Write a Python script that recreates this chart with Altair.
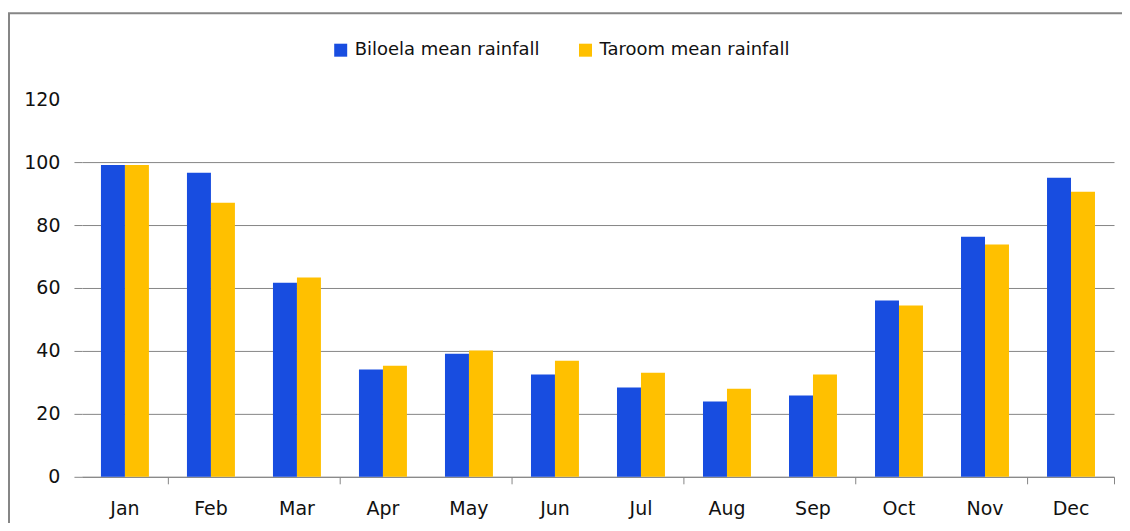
import altair as alt
import pandas as pd

months = ["Jan", "Feb", "Mar", "Apr", "May", "Jun", "Jul", "Aug", "Sep", "Oct", "Nov", "Dec"]
biloela = [99.1, 96.6, 61.7, 34.1, 39.1, 32.5, 28.4, 23.9, 25.8, 56.0, 76.3, 95.0]
taroom = [99.1, 87.1, 63.3, 35.3, 40.1, 36.9, 33.1, 28.0, 32.5, 54.4, 73.8, 90.6]
series = ["Biloela mean rainfall", "Taroom mean rainfall"]
colors = ["#184DE0", "#FFC000"]
y_ticks = [0, 20, 40, 60, 80, 100, 120]
tick_months = ["Jan", "Mar", "May", "Jul", "Sep", "Nov", "Dec"]

rows = []
for m, b, t in zip(months, biloela, taroom):
    rows.append({"month": m, "series": series[0], "value": b})
    rows.append({"month": m, "series": series[1], "value": t})
df = pd.DataFrame(rows)

W, H = 1033, 378
GRAY = "#868686"
FONT = "DejaVu Sans"
TXT = "#111111"

xscale = alt.Scale(paddingInner=0, paddingOuter=0)
hide120 = {"condition": {"test": "datum.value === 120", "value": 0}, "value": 1}

bars = alt.Chart(df).mark_bar().encode(
    x=alt.X("month:N", sort=months, scale=xscale,
            axis=alt.Axis(orient="bottom", title=None, ticks=False, labelAngle=0,
                          labelPadding=23, labelFontSize=19, labelFont=FONT,
                          labelColor=TXT, domainColor=GRAY, domainWidth=1, grid=False)),
    xOffset=alt.XOffset("series:N", sort=series,
                        scale=alt.Scale(paddingInner=0, paddingOuter=0.793)),
    y=alt.Y("value:Q", scale=alt.Scale(domain=[0, 120], nice=False),
            axis=alt.Axis(values=y_ticks, title=None, domain=False, tickSize=8,
                          tickColor=GRAY, gridColor=GRAY, gridWidth=1,
                          labelPadding=14, labelFontSize=19, labelFont=FONT,
                          labelColor=TXT, gridOpacity=hide120, tickOpacity=hide120)),
    color=alt.Color("series:N", sort=series,
                    scale=alt.Scale(domain=series, range=colors),
                    legend=alt.Legend(orient="none", legendX=250, legendY=-58,
                                      direction="horizontal", title=None,
                                      symbolType="square", symbolSize=169,
                                      symbolStrokeWidth=0, symbolOpacity=1,
                                      labelFontSize=18, labelFont=FONT,
                                      labelColor=TXT, columnPadding=36,
                                      labelOffset=5, labelLimit=0)),
)

tick_layer = alt.Chart(df).mark_point(opacity=0).encode(
    x=alt.X("month:N", sort=months, scale=xscale,
            axis=alt.Axis(orient="bottom", title=None, values=tick_months,
                          bandPosition=1, labels=False, domain=False, grid=False,
                          tickSize=7, tickColor=GRAY, tickWidth=1)),
)

one = pd.DataFrame({"k": [0]})
frame_v = alt.Chart(one).mark_rule(color=GRAY, strokeWidth=2).encode(
    x=alt.value(-73), y=alt.value(-86), y2=alt.value(H + 60))
frame_h = alt.Chart(one).mark_rule(color=GRAY, strokeWidth=2).encode(
    x=alt.value(-74), x2=alt.value(W + 8), y=alt.value(-86))

chart = alt.layer(bars, tick_layer, frame_v, frame_h).resolve_axis(
    x="independent"
).properties(
    width=W, height=H,
    padding={"left": 74, "top": 91, "right": 8, "bottom": 46},
    autosize=alt.AutoSizeParams(type="none"),
).configure_view(stroke=None)

chart.save("out.html", embed_options={"renderer": "svg", "actions": False})
